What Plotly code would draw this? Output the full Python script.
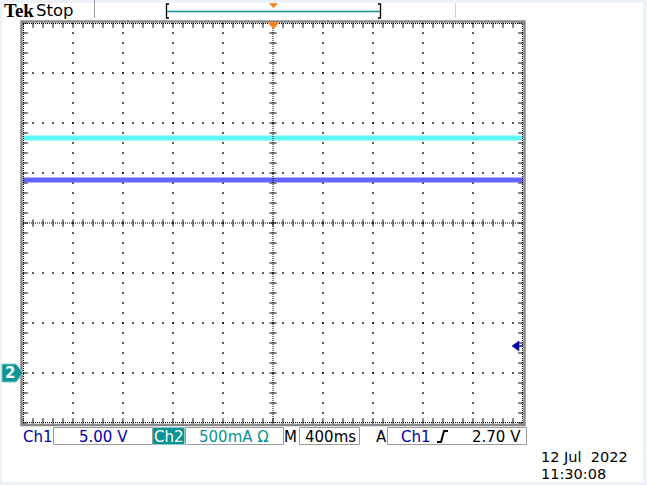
import numpy as np
import plotly.graph_objects as go

time_s = [-2.0, 2.0]                 # full record, 10 div x 400 ms
ch1_volts = [19.3, 19.3]             # Ch1 (blue) level
ch2_amps = [2.35, 2.35]              # Ch2 (cyan) level
ch1_scale_v = 5.00                   # V/div
ch2_scale_a = 0.500                  # A/div
time_scale_s = 0.400                 # s/div
ground_div = -3                      # both channel grounds, in divisions from centre
trigger_level_v = 2.70

title_brand = "Tek"
title_state = "Stop"
ch1_label = "Ch1"
ch1_scale_label = "5.00 V"
ch2_label = "Ch2"
ch2_scale_label = "500mA Ω"
time_label = "M"
time_scale_label = "400ms"
trig_label = "A"
trig_src = "Ch1"
trig_level_label = "2.70 V"
date_label = "12 Jul  2022"
clock_label = "11:30:08"

# ---------------- geometry ----------------
W, H = 647, 485
L, T, PW, PH = 23, 23, 500, 400
fx = lambda px: (px - L) / PW
fy = lambda py: (T + PH - py) / PH

NX, NY = 10, 8
x_lo, x_hi = -NX / 2 * time_scale_s, NX / 2 * time_scale_s
y_lo, y_hi = (-NY / 2 - ground_div) * ch1_scale_v, (NY / 2 - ground_div) * ch1_scale_v
y2_lo, y2_hi = (-NY / 2 - ground_div) * ch2_scale_a, (NY / 2 - ground_div) * ch2_scale_a
y_mid = (y_lo + y_hi) / 2
px_x = time_scale_s / 50.0   # seconds per pixel
px_y = ch1_scale_v / 50.0    # volts per pixel

fig = go.Figure()

# ---------------- graticule ----------------
gx, gy = [], []
sub_x = np.arange(x_lo, x_hi + 1e-9, time_scale_s / 5)
sub_y = np.arange(y_lo, y_hi + 1e-9, ch1_scale_v / 5)
for k in range(1, NX):
    if k == NX // 2:
        continue
    xv = x_lo + k * time_scale_s
    gx += [xv] * len(sub_y); gy += list(sub_y)
for j in range(1, NY):
    if j == NY // 2:
        continue
    yv = y_lo + j * ch1_scale_v
    gx += list(sub_x); gy += [yv] * len(sub_x)
fig.add_trace(go.Scatter(x=gx, y=gy, mode="markers", hoverinfo="skip",
                         marker=dict(symbol="square", size=1.7, color="black", line=dict(width=0))))

# tick marks on centre lines
fig.add_trace(go.Scatter(x=list(sub_x), y=[y_mid] * len(sub_x), mode="markers", hoverinfo="skip",
                         marker=dict(symbol="line-ns", size=5, line=dict(width=1, color="black"))))
fig.add_trace(go.Scatter(x=[0] * len(sub_y), y=list(sub_y), mode="markers", hoverinfo="skip",
                         marker=dict(symbol="line-ew", size=5, line=dict(width=1, color="black"))))
# tick marks on the edges
fig.add_trace(go.Scatter(x=list(sub_x) * 2,
                         y=[y_hi - 2 * px_y] * len(sub_x) + [y_lo + 2 * px_y] * len(sub_x),
                         mode="markers", hoverinfo="skip", cliponaxis=False,
                         marker=dict(symbol="line-ns", size=4, line=dict(width=1, color="black"))))
fig.add_trace(go.Scatter(x=[x_lo + 2 * px_x] * len(sub_y) + [x_hi - 2 * px_x] * len(sub_y),
                         y=list(sub_y) * 2,
                         mode="markers", hoverinfo="skip", cliponaxis=False,
                         marker=dict(symbol="line-ew", size=4, line=dict(width=1, color="black"))))

# ---------------- waveforms ----------------
fig.add_trace(go.Scatter(x=time_s, y=ch2_amps, yaxis="y2", mode="lines", hoverinfo="skip",
                         line=dict(color="#5ff7f7", width=5)))
fig.add_trace(go.Scatter(x=time_s, y=ch1_volts, mode="lines", hoverinfo="skip",
                         line=dict(color="#6464ff", width=5)))

shapes = []
# white screen area
shapes.append(dict(type="rect", xref="paper", yref="paper", layer="below",
                   x0=fx(2), x1=fx(643), y0=fy(482), y1=fy(3),
                   fillcolor="white", line=dict(width=0)))
# dense dotted centre lines and edge lines
dot = dict(color="black", width=1, dash="1px,1px")
shapes.append(dict(type="line", xref="x", yref="y", x0=x_lo, x1=x_hi, y0=y_mid, y1=y_mid, line=dot))
shapes.append(dict(type="line", xref="x", yref="y", x0=0, x1=0, y0=y_lo, y1=y_hi, line=dot))
shapes.append(dict(type="line", xref="x", yref="y", x0=x_lo, x1=x_hi, y0=y_hi - 0.5 * px_y, y1=y_hi - 0.5 * px_y, line=dot))
shapes.append(dict(type="line", xref="x", yref="y", x0=x_lo, x1=x_hi, y0=y_lo + 0.5 * px_y, y1=y_lo + 0.5 * px_y, line=dot))
shapes.append(dict(type="line", xref="x", yref="y", x0=x_lo + 0.5 * px_x, x1=x_lo + 0.5 * px_x, y0=y_lo, y1=y_hi, line=dot))
shapes.append(dict(type="line", xref="x", yref="y", x0=x_hi - 0.5 * px_x, x1=x_hi - 0.5 * px_x, y0=y_lo, y1=y_hi, line=dot))
# grey bezel
shapes.append(dict(type="rect", xref="paper", yref="paper",
                   x0=fx(21.5), x1=fx(524.5), y0=fy(425), y1=fy(21.5),
                   line=dict(color="#8a8a8a", width=2.5)))

# top bar decorations
shapes.append(dict(type="line", xref="paper", yref="paper", x0=fx(94.5), x1=fx(94.5), y0=fy(0), y1=fy(18),
                   line=dict(color="#9a9a9a", width=1)))
shapes.append(dict(type="line", xref="paper", yref="paper", x0=fx(455.5), x1=fx(455.5), y0=fy(3), y1=fy(18),
                   line=dict(color="#d0d0d0", width=1)))
shapes.append(dict(type="line", xref="paper", yref="paper", x0=fx(167), x1=fx(380), y0=fy(11.5), y1=fy(11.5),
                   line=dict(color="#139494", width=1.5)))
shapes.append(dict(type="path", xref="paper", yref="paper",
                   path=f"M {fx(169)},{fy(4)} L {fx(166.5)},{fy(4)} L {fx(166.5)},{fy(18)} L {fx(169)},{fy(18)}",
                   line=dict(color="black", width=1.3)))
shapes.append(dict(type="path", xref="paper", yref="paper",
                   path=f"M {fx(378)},{fy(4)} L {fx(380.5)},{fy(4)} L {fx(380.5)},{fy(18)} L {fx(378)},{fy(18)}",
                   line=dict(color="black", width=1.3)))
orange = "#f5821f"
shapes.append(dict(type="path", xref="paper", yref="paper",
                   path=f"M {fx(269.5)},{fy(3.5)} L {fx(277.5)},{fy(3.5)} L {fx(273.5)},{fy(8)} Z",
                   fillcolor=orange, line=dict(color=orange, width=0.5)))
shapes.append(dict(type="path", xref="paper", yref="paper",
                   path=f"M {fx(268)},{fy(22.5)} L {fx(279)},{fy(22.5)} L {fx(273.5)},{fy(29)} Z",
                   fillcolor=orange, line=dict(color=orange, width=0.5)))

# Ch2 ground marker
teal = "#0f9494"
gy_px = T + PH / 2 - ground_div * 50
shapes.append(dict(type="path", xref="paper", yref="paper",
                   path=f"M {fx(2)},{fy(gy_px-9)} L {fx(16)},{fy(gy_px-9)} L {fx(23)},{fy(gy_px)} "
                        f"L {fx(16)},{fy(gy_px+9)} L {fx(2)},{fy(gy_px+9)} Z",
                   fillcolor=teal, line=dict(color="#7fcaca", width=1)))
# trigger level arrow (Ch1 scale)
ty_px = T + PH / 2 - (trigger_level_v / ch1_scale_v + ground_div) * 50
blue_dk = "#0000a8"
shapes.append(dict(type="path", xref="paper", yref="paper",
                   path=f"M {fx(512)},{fy(ty_px)} L {fx(519)},{fy(ty_px-5)} L {fx(519)},{fy(ty_px+5)} Z",
                   fillcolor=blue_dk, line=dict(color=blue_dk, width=0.5)))
shapes.append(dict(type="line", xref="paper", yref="paper", x0=fx(517), x1=fx(523), y0=fy(ty_px), y1=fy(ty_px),
                   line=dict(color=blue_dk, width=1.5)))

# status bar boxes
box = dict(color="#9c9c9c", width=1)
for x0, x1 in [(53.5, 152.5), (185.5, 283.5), (299.5, 359.5), (387.5, 526.5)]:
    shapes.append(dict(type="rect", xref="paper", yref="paper", x0=fx(x0), x1=fx(x1),
                       y0=fy(444.5), y1=fy(427.5), line=box, fillcolor="white"))
shapes.append(dict(type="rect", xref="paper", yref="paper", x0=fx(153), x1=fx(184.5),
                   y0=fy(444.5), y1=fy(427.5), line=dict(width=0), fillcolor="#0a9393"))
# rising edge symbol
shapes.append(dict(type="path", xref="paper", yref="paper",
                   path=f"M {fx(437)},{fy(442)} L {fx(441)},{fy(442)} L {fx(444)},{fy(431)} L {fx(448)},{fy(431)}",
                   line=dict(color="black", width=2)))

ann = []
def txt(s, x, y, size=15, color="black", family="DejaVu Sans", anchor="left", bold=False):
    ann.append(dict(text=f"<b>{s}</b>" if bold else s, xref="paper", yref="paper",
                    x=fx(x), y=fy(y), xanchor=anchor, yanchor="middle", showarrow=False,
                    font=dict(size=size, color=color, family=family)))

txt(title_brand, 2, 10.5, size=19, family="Liberation Serif", bold=True)
txt(title_state, 34, 10.5, size=16.5)
txt(ch1_label, 21, 436.5, color=blue_dk)
txt(ch1_scale_label, 103, 436.5, color=blue_dk, anchor="center")
txt(ch2_label, 169, 436.5, color="white", anchor="center")
txt(ch2_scale_label, 234, 436.5, color="#0a9393", anchor="center")
txt(time_label, 290.5, 436.5, anchor="center")
txt(time_scale_label, 330, 436.5, anchor="center")
txt(trig_label, 381, 436.5, anchor="center")
txt(trig_src, 399, 436.5, color=blue_dk)
txt(trig_level_label, 523, 436.5, anchor="right")
txt(date_label, 539, 457, size=14.5)
txt(clock_label, 539, 473.5, size=14.5)
txt("2", 10, gy_px, size=15, color="white", anchor="center", bold=True)

fig.update_layout(
    width=W, height=H,
    margin=dict(l=L, r=W - L - PW, t=T, b=H - T - PH, pad=0),
    paper_bgcolor="#edf1f8", plot_bgcolor="white",
    showlegend=False,
    xaxis=dict(range=[x_lo, x_hi], visible=False, fixedrange=True),
    yaxis=dict(range=[y_lo, y_hi], visible=False, fixedrange=True),
    yaxis2=dict(range=[y2_lo, y2_hi], overlaying="y", visible=False, fixedrange=True),
    shapes=shapes, annotations=ann,
)
fig.write_html("out.html", config={"displayModeBar": False},
               post_script="document.body.style.margin='0px';document.body.style.overflow='hidden';")
